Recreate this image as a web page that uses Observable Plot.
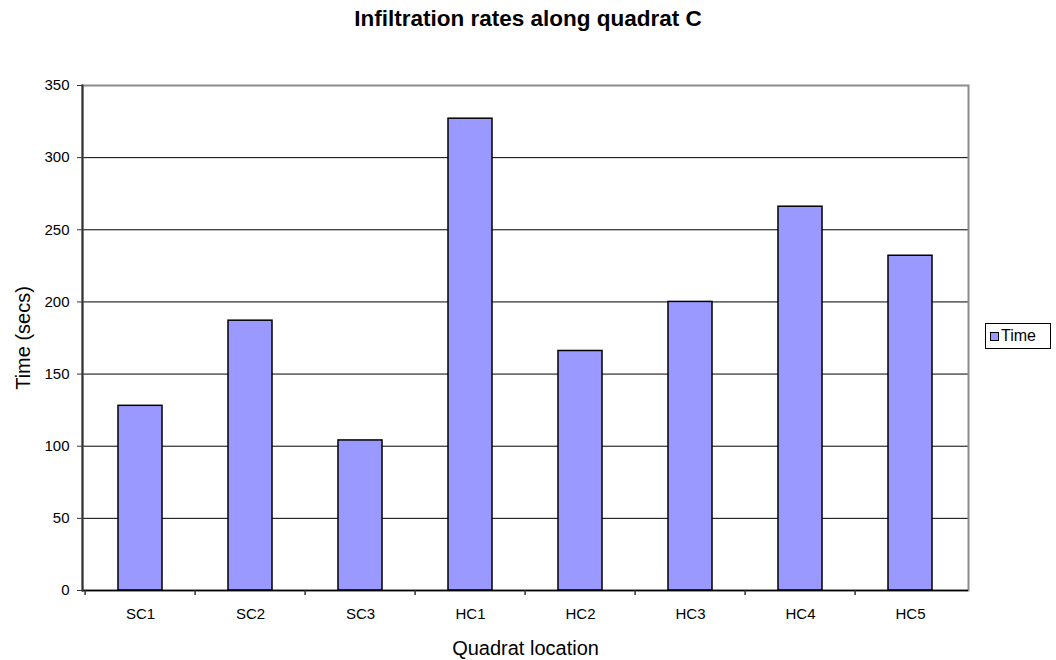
<!DOCTYPE html>
<html>
<head>
<meta charset="utf-8">
<script src="https://cdn.jsdelivr.net/npm/d3@7"></script>
<script src="https://cdn.jsdelivr.net/npm/@observablehq/plot@0.6"></script>
<style>
  html, body { margin: 0; padding: 0; background: #fff; }
  body { width: 1056px; height: 660px; position: relative; overflow: hidden; font-family: "Liberation Sans", Arial, sans-serif; }
  #title { height: 60px; box-sizing: border-box; padding-top: 6px; line-height: 26px; text-align: center; font-weight: bold; font-size: 22.5px; color: #000; }
  #legend { position: absolute; left: 985px; top: 323px; width: 66px; height: 26px; box-sizing: border-box; border: 1px solid #000; background: #fff; font-size: 16px; display: flex; align-items: center; padding-left: 4px; }
  #legend .sw { width: 7px; height: 7px; background: #9999FF; border: 1px solid #000; margin-right: 2px; }
</style>
</head>
<body>
<div id="title">Infiltration rates along quadrat C</div>
<div id="chart"></div>
<div id="legend"><span class="sw"></span><span>Time</span></div>
<script>
const categories = ["SC1", "SC2", "SC3", "HC1", "HC2", "HC3", "HC4", "HC5"];
const times = [128, 187, 104, 327, 166, 200, 266, 232];
const yTicks = [0, 50, 100, 150, 200, 250, 300, 350];
const gridTicks = [50, 100, 150, 200, 250, 300];

const data = categories.map((c, i) => ({ loc: c, time: times[i] }));

const W = 1056, H = 600;
const mL = 82, mR = 88, mT = 25, mB = 70;
const step = (W - mL - mR) / categories.length;

const chart = Plot.plot({
  width: W,
  height: H,
  marginLeft: mL,
  marginRight: mR,
  marginTop: mT,
  marginBottom: mB,
  style: { fontFamily: "Liberation Sans, Arial, sans-serif", fontSize: "15px", color: "#000", background: "#fff" },
  x: { domain: categories, paddingInner: 0.6, paddingOuter: 0.3, label: null },
  y: { domain: [0, 350], label: null },
  marks: [
    Plot.ruleY(gridTicks, { stroke: "#000", strokeWidth: 1 }),
    Plot.frame({ stroke: "#8c8c8c", strokeWidth: 2 }),
    Plot.barY(data, { x: "loc", y: "time", fill: "#9999FF", stroke: "#000", strokeWidth: 1.5 }),
    Plot.ruleY([0], { stroke: "#000", strokeWidth: 1.5 }),
    Plot.frame({ anchor: "left", stroke: "#333", strokeWidth: 2 }),
    Plot.ruleX(categories, { x: d => d, y1: 0, y2: 0, insetBottom: -5, dx: -step / 2, stroke: "#333", strokeWidth: 1.5 }),
    Plot.axisY({ ticks: yTicks, tickSize: 5, tickPadding: 8, stroke: "#333",
      label: "Time (secs)", labelAnchor: "center", labelArrow: "none", labelOffset: 67 }),
    Plot.axisX({ tickSize: 0, tickPadding: 18,
      label: "Quadrat location", labelAnchor: "center", labelArrow: "none", labelOffset: 64 })
  ]
});
chart.querySelectorAll('[aria-label="y-axis tick label"], [aria-label="x-axis tick label"]').forEach(g => {
  g.setAttribute("font-size", "15");
  g.querySelectorAll("text").forEach(t => t.setAttribute("font-size", "15"));
});
chart.querySelectorAll('[aria-label="y-axis label"] text, [aria-label="x-axis label"] text').forEach(t => t.setAttribute("font-size", "20"));
document.getElementById("chart").appendChild(chart);
</script>
</body>
</html>
